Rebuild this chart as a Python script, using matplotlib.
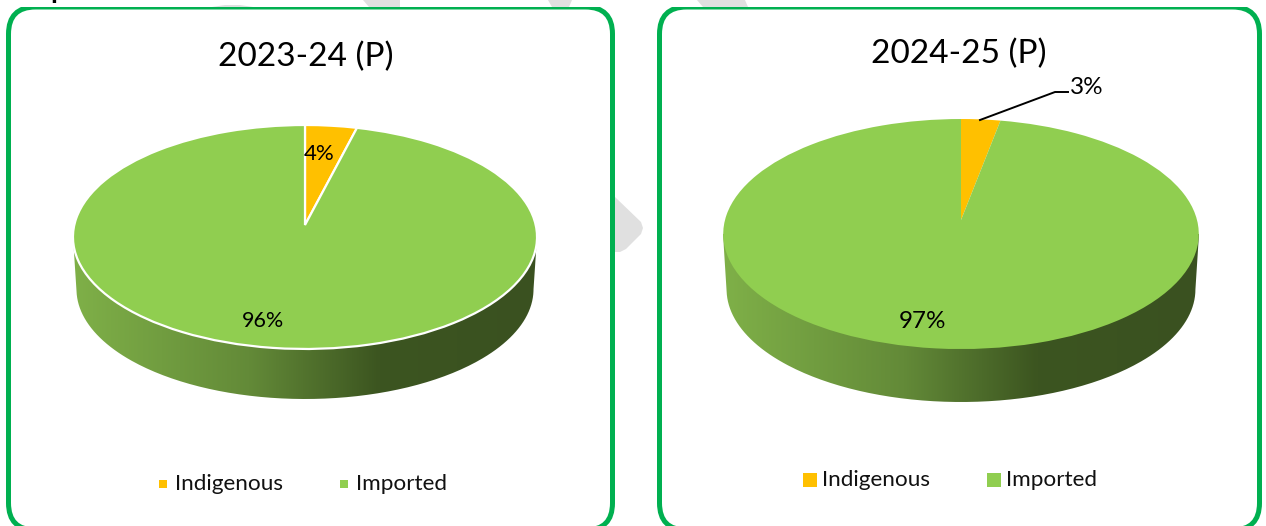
import numpy as np
from matplotlib import pyplot as plt
from matplotlib.colors import LinearSegmentedColormap
from matplotlib.patches import FancyBboxPatch, Polygon, Rectangle
from matplotlib.path import Path
from matplotlib.transforms import Transform

plt.rcParams['font.family'] = ['Lato', 'DejaVu Sans']

categories = ['Indigenous', 'Imported']
years = ['2023-24 (P)', '2024-25 (P)']
share_2324 = [4, 96]
share_2425 = [3, 97]
colors = ['#FFC000', '#90CE50']

WIDTH, HEIGHT = 1266, 526


class TiltedDisk(Transform):
    # unit disk seen in perspective, output in pixel coordinates
    input_dims = 2
    output_dims = 2

    def __init__(self, cx, apex_y, a, b, k):
        super().__init__()
        self.cx, self.apex_y, self.a, self.b, self.k = cx, apex_y, a, b, k

    def transform_non_affine(self, values):
        values = np.asarray(values, dtype=float)
        d = 1 + self.k * values[:, 1]
        return np.column_stack((self.cx + self.b * values[:, 0] / d,
                                self.apex_y - self.a * values[:, 1] / d))


def draw_wall(ax, cx, cy, rx, ry, bottom, cmap):
    # side of the disk, a horizontal gradient clipped to the rim outline
    t = np.linspace(np.pi, 0, 200)
    low_rx = rx * 0.985
    low_ry = ry * 0.98
    low_cy = bottom - low_ry
    rim = np.column_stack((cx + low_rx * np.cos(t), low_cy + low_ry * np.sin(t)))
    verts = np.vstack(([[cx - rx, cy]], rim, [[cx + rx, cy]]))
    img = ax.imshow(np.linspace(0, 1, 256).reshape(1, -1), cmap=cmap, aspect='auto',
                    extent=(cx - rx, cx + rx, bottom, cy), zorder=2)
    img.set_clip_path(Path(verts, closed=False), transform=ax.transData)


def draw_panel(ax, x0, x1, title, title_xy, values, disk, rim, wedge_edge):
    frame = FancyBboxPatch((x0 + 27, 7 + 27), x1 - x0 - 54, 530 - 7 - 54,
                           boxstyle='round,pad=27,rounding_size=27',
                           fc='white', ec='#00B050', lw=3.6, zorder=1)
    ax.add_patch(frame)
    frame.set_clip_path(Rectangle((0, 7), WIDTH, HEIGHT, transform=ax.transData))
    ax.text(*title_xy, title, fontsize=24, ha='center', va='center', color='black', zorder=5)

    wall = LinearSegmentedColormap.from_list(
        'wall', [(0, '#7FB048'), (0.38, '#638A38'), (0.66, '#3C5520'), (1, '#3A5120')])
    draw_wall(ax, *rim, wall)

    wedges, _ = ax.pie(values, colors=colors, startangle=90, counterclock=False,
                       wedgeprops={'edgecolor': wedge_edge, 'linewidth': 1.6 if wedge_edge != 'none' else 0})
    for wedge in wedges:
        wedge.set_transform(TiltedDisk(*disk) + ax.transData)
        wedge.set_zorder(3)


fig = plt.figure(figsize=(WIDTH / 100, HEIGHT / 100), dpi=100)
ax = fig.add_axes([0, 0, 1, 1])

# watermark pieces showing around the frames
grey = '#E0E0E0'
ax.add_patch(Polygon([(615, 197), (641, 222), (643, 228), (641, 234), (626, 249), (620, 252), (615, 252)],
                     fc=grey, ec='none', zorder=0))
ax.add_patch(Polygon([(212, 7), (225, 5), (240, 5), (253, 7)], fc=grey, ec='none', zorder=0))
ax.add_patch(Polygon([(363, 0), (400, 0), (400, 7), (369, 7)], fc=grey, ec='none', zorder=0))
ax.add_patch(Polygon([(548, 0), (572, 0), (569, 7), (552, 7)], fc=grey, ec='none', zorder=0))
ax.add_patch(Polygon([(697, 0), (745, 0), (748, 7), (703, 7)], fc=grey, ec='none', zorder=0))

draw_panel(ax, 8.5, 612.5, years[0], (306, 57), share_2324,
           (305, 225, 110.7, 230.7, 0.107), (305, 237, 232, 112, 399), 'white')
draw_panel(ax, 659.5, 1259.5, years[1], (959, 54), share_2425,
           (961, 220, 113.3, 236, 0.122), (961, 234, 238, 115, 402), 'none')

ax.set_xlim(0, WIDTH)
ax.set_ylim(HEIGHT, 0)
ax.set_aspect('auto')
ax.axis('off')

# data labels
ax.text(319, 154, f'{share_2324[0]}%', fontsize=16, ha='center', va='center', zorder=5)
ax.text(263, 321, f'{share_2324[1]}%', fontsize=15.5, ha='center', va='center', zorder=5)
ax.text(922, 321, f'{share_2425[1]}%', fontsize=17.5, ha='center', va='center', zorder=5)
ax.text(1087, 87, f'{share_2425[0]}%', fontsize=17.5, ha='center', va='center', zorder=5)
ax.plot([980, 1055, 1068], [120, 92, 92], color='black', lw=1.4, zorder=4)

# legends
for x_box, x_text, color, label in zip([159, 340], [175, 356], colors, categories):
    ax.add_patch(Rectangle((x_box, 480), 8, 8, fc=color, ec='none', zorder=5))
    ax.text(x_text, 484.5, label, fontsize=16.2, ha='left', va='center', color='#111111', zorder=5)
for x_box, x_text, color, label in zip([803, 987], [822, 1006], colors, categories):
    ax.add_patch(Rectangle((x_box, 473), 14, 14, fc=color, ec='none', zorder=5))
    ax.text(x_text, 480.5, label, fontsize=16.2, ha='left', va='center', color='#111111', zorder=5)

# descender of the cut off heading above the panels
ax.text(50, -2, 'p', fontsize=20, fontweight='bold', ha='left', va='baseline', color='black', clip_on=True)

fig.savefig('out.png', dpi=100)
